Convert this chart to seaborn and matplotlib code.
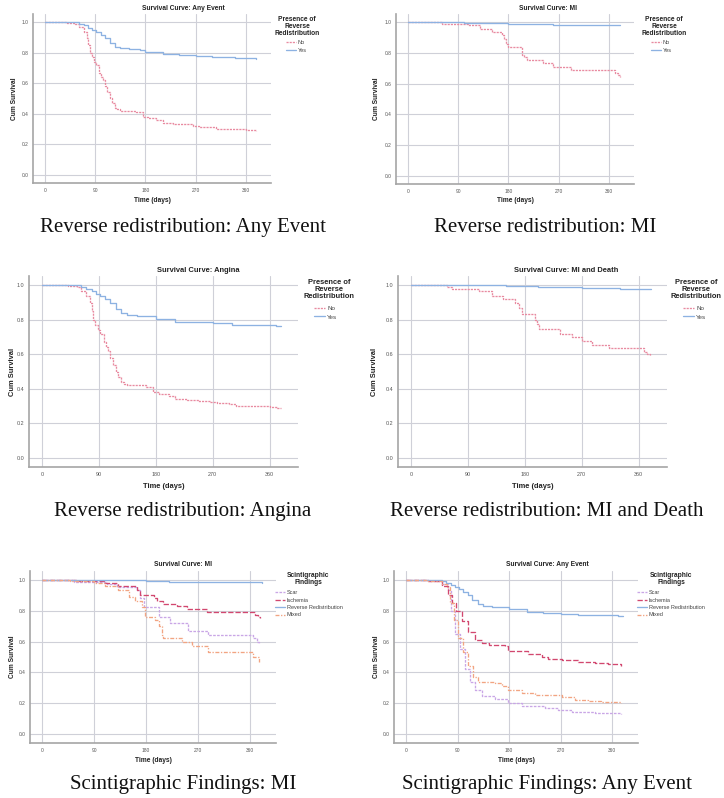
import numpy as np
import pandas as pd
import matplotlib
matplotlib.use("Agg")
import matplotlib.pyplot as plt
import seaborn as sns

# ---------------- data ----------------
x_ticks = [0, 90, 180, 270, 360]
y_ticks = [0.0, 0.2, 0.4, 0.6, 0.8, 1.0]

# Reverse redistribution: Any Event (also Angina)
ae_no_t = [0, 40, 55, 62, 70, 75, 78, 81, 84, 88, 92, 97, 101, 104, 108, 112, 116, 120, 125, 130, 134, 164, 176, 185, 200, 211, 230, 247, 265, 277, 295, 307, 340, 360, 372, 378]
ae_no_s = [1.0, 0.995, 0.99, 0.97, 0.94, 0.90, 0.85, 0.80, 0.77, 0.74, 0.72, 0.67, 0.64, 0.62, 0.58, 0.54, 0.50, 0.47, 0.44, 0.43, 0.42, 0.41, 0.38, 0.37, 0.36, 0.34, 0.335, 0.33, 0.32, 0.315, 0.31, 0.30, 0.298, 0.296, 0.29, 0.285]
ae_yes_t = [0, 62, 70, 78, 85, 92, 100, 108, 116, 125, 134, 150, 170, 180, 211, 240, 271, 300, 340, 370, 378]
ae_yes_s = [1.0, 0.99, 0.98, 0.965, 0.95, 0.94, 0.92, 0.90, 0.865, 0.84, 0.83, 0.825, 0.82, 0.807, 0.79, 0.785, 0.78, 0.772, 0.768, 0.765, 0.762]

an_no_t, an_no_s = ae_no_t, ae_no_s
an_yes_t, an_yes_s = ae_yes_t, ae_yes_s

# Reverse redistribution: MI
mi_no_t = [0, 61, 108, 129, 150, 168, 172, 176, 180, 204, 208, 213, 243, 260, 293, 371, 376, 380]
mi_no_s = [1.0, 0.99, 0.98, 0.96, 0.935, 0.92, 0.89, 0.86, 0.84, 0.79, 0.775, 0.755, 0.737, 0.71, 0.69, 0.668, 0.655, 0.646]
mi_yes_t = [0, 100, 140, 180, 220, 260, 300, 380]
mi_yes_s = [1.0, 0.997, 0.994, 0.99, 0.987, 0.984, 0.982, 0.98]

# Reverse redistribution: MI and Death
md_no_t = [0, 56, 64, 107, 128, 146, 165, 170, 175, 196, 199, 202, 236, 254, 270, 286, 313, 368, 373, 378]
md_no_s = [1.0, 0.99, 0.98, 0.965, 0.94, 0.92, 0.90, 0.87, 0.835, 0.80, 0.775, 0.745, 0.72, 0.70, 0.68, 0.655, 0.635, 0.615, 0.60, 0.595]
md_yes_t = [0, 150, 200, 270, 330, 380]
md_yes_s = [1.0, 0.995, 0.99, 0.985, 0.982, 0.98]

# Scintigraphic findings: MI
sm_scar_t = [0, 55, 112, 130, 164, 170, 176, 202, 222, 253, 288, 366, 372, 376]
sm_scar_s = [1.0, 0.985, 0.97, 0.95, 0.93, 0.88, 0.82, 0.76, 0.72, 0.67, 0.64, 0.62, 0.60, 0.585]
sm_isc_t = [0, 58, 107, 132, 164, 170, 193, 199, 210, 233, 251, 285, 369, 374, 378]
sm_isc_s = [1.0, 0.99, 0.975, 0.96, 0.93, 0.90, 0.88, 0.86, 0.84, 0.83, 0.81, 0.79, 0.77, 0.755, 0.75]
sm_rr_t, sm_rr_s = mi_yes_t, mi_yes_s
sm_mix_t = [0, 49, 89, 109, 132, 150, 161, 173, 179, 196, 202, 207, 210, 242, 259, 288, 366, 376]
sm_mix_s = [1.0, 0.99, 0.975, 0.96, 0.93, 0.89, 0.86, 0.82, 0.76, 0.74, 0.70, 0.64, 0.625, 0.60, 0.57, 0.53, 0.50, 0.47]

# Scintigraphic findings: Any Event
sa_scar_t = [0, 39, 62, 74, 78, 85, 94, 103, 112, 120, 132, 155, 178, 202, 242, 266, 289, 330, 376]
sa_scar_s = [1.0, 0.99, 0.97, 0.93, 0.80, 0.65, 0.55, 0.42, 0.34, 0.29, 0.25, 0.23, 0.205, 0.185, 0.17, 0.155, 0.145, 0.14, 0.13]
sa_isc_t = [0, 39, 62, 74, 80, 88, 97, 109, 120, 132, 144, 173, 178, 213, 237, 248, 272, 301, 330, 353, 376]
sa_isc_s = [1.0, 0.99, 0.96, 0.90, 0.85, 0.80, 0.73, 0.66, 0.61, 0.59, 0.58, 0.57, 0.54, 0.52, 0.50, 0.49, 0.48, 0.465, 0.46, 0.455, 0.44]
sa_rr_t, sa_rr_s = ae_yes_t, ae_yes_s
sa_mix_t = [0, 39, 62, 71, 77, 83, 91, 100, 109, 117, 126, 155, 167, 178, 202, 225, 272, 295, 318, 341, 376]
sa_mix_s = [1.0, 0.99, 0.97, 0.95, 0.85, 0.74, 0.62, 0.53, 0.44, 0.37, 0.34, 0.33, 0.31, 0.29, 0.265, 0.255, 0.24, 0.225, 0.215, 0.21, 0.20]

rr_groups = ["No", "Yes"]
sc_groups = ["Scar", "Ischemia", "Reverse Redistribution", "Mixed"]

titles = ["Survival Curve: Any Event", "Survival Curve: MI", "Survival Curve: Angina",
          "Survival Curve: MI and Death", "Survival Curve: MI", "Survival Curve: Any Event"]
captions = ["Reverse redistribution: Any Event", "Reverse redistribution: MI",
            "Reverse redistribution: Angina", "Reverse redistribution: MI and Death",
            "Scintigraphic Findings: MI", "Scintigraphic Findings: Any Event"]
rr_legend_title = "Presence of\nReverse\nRedistribution"
sc_legend_title = "Scintigraphic\nFindings"

# ---------------- styling ----------------
rr_palette = {"No": "#e88aa0", "Yes": "#8db2e2"}
rr_dashes = {"No": (1.6, 0.8), "Yes": ""}
sc_palette = {"Scar": "#c9a6e6", "Ischemia": "#d2476f",
              "Reverse Redistribution": "#8db2e2", "Mixed": "#f2a482"}
sc_dashes = {"Scar": (2, 1), "Ischemia": (4, 1.5), "Reverse Redistribution": "", "Mixed": (3, 1.2, 1, 1.2)}

sns.set_theme(style="white")
plt.rcParams["font.family"] = ["Liberation Sans", "DejaVu Sans"]

W, H = 724, 798
fig = plt.figure(figsize=(W / 100, H / 100), dpi=100)


def frame(series, groups):
    parts = []
    for (t, s), g in zip(series, groups):
        parts.append(pd.DataFrame({"time": t, "surv": s, "group": g}))
    return pd.concat(parts, ignore_index=True)


def px(x, y):
    return x / W, 1 - y / H


panels = [
    dict(box=(33, 14, 271, 183), series=[(ae_no_t, ae_no_s), (ae_yes_t, ae_yes_s)], kind="rr",
         fs=1.0, leg=(286, 40), legt=(297, 16), title=(183, 9), cap=(183, 232), ylab=15, xlab=200),
    dict(box=(396, 14, 634, 184), series=[(mi_no_t, mi_no_s), (mi_yes_t, mi_yes_s)], kind="rr",
         fs=1.0, leg=(651, 40), legt=(664, 16), title=(548, 9), cap=(545, 232), ylab=377, xlab=200),
    dict(box=(29, 276, 298, 467), series=[(an_no_t, an_no_s), (an_yes_t, an_yes_s)], kind="rr",
         fs=1.12, leg=(314, 306), legt=(329, 279), title=(198, 271), cap=(183, 516), ylab=13, xlab=486),
    dict(box=(398, 276, 667, 467), series=[(md_no_t, md_no_s), (md_yes_t, md_yes_s)], kind="rr",
         fs=1.12, leg=(683, 306), legt=(696, 279), title=(566, 271), cap=(547, 516), ylab=375, xlab=486),
    dict(box=(30, 571, 276, 743), series=[(sm_scar_t, sm_scar_s), (sm_isc_t, sm_isc_s), (sm_rr_t, sm_rr_s), (sm_mix_t, sm_mix_s)],
         kind="sc", fs=1.0, leg=(275, 590), legt=(308, 572), title=(183, 565), cap=(183, 789), ylab=13, xlab=761),
    dict(box=(394, 571, 638, 743), series=[(sa_scar_t, sa_scar_s), (sa_isc_t, sa_isc_s), (sa_rr_t, sa_rr_s), (sa_mix_t, sa_mix_s)],
         kind="sc", fs=1.0, leg=(637, 590), legt=(671, 572), title=(547, 565), cap=(547, 789), ylab=376, xlab=761),
]

for i, p in enumerate(panels):
    l, t, r, b = p["box"]
    ax = fig.add_axes([l / W, 1 - b / H, (r - l) / W, (b - t) / H])
    groups = rr_groups if p["kind"] == "rr" else sc_groups
    pal = rr_palette if p["kind"] == "rr" else sc_palette
    dsh = rr_dashes if p["kind"] == "rr" else sc_dashes
    df = frame(p["series"], groups)
    sns.lineplot(data=df, x="time", y="surv", hue="group", style="group",
                 hue_order=groups, style_order=groups, palette=pal, dashes=dsh,
                 estimator=None, drawstyle="steps-post", linewidth=0.95, ax=ax)
    fs = p["fs"]
    ax.set_xlim(-21, 405)
    ax.set_ylim(-0.055, 1.055)
    ax.set_xticks(x_ticks)
    ax.set_xticklabels([str(v) for v in x_ticks])
    ax.set_yticks(y_ticks)
    ax.set_yticklabels([f"{v:.1f}" for v in y_ticks])
    ax.tick_params(length=0, pad=3.5, labelsize=3.5 * fs, labelcolor="#555555")
    ax.grid(True, color="#cfd0d8", linewidth=0.8)
    ax.set_axisbelow(True)
    for s in ("top", "right"):
        ax.spines[s].set_visible(False)
    for s in ("left", "bottom"):
        ax.spines[s].set_color("#a5a5a5")
        ax.spines[s].set_linewidth(1.2)
    ax.set_xlabel("")
    ax.set_ylabel("")

    handles, labels = ax.get_legend_handles_labels()
    lx, ly = p["leg"]
    ax.legend(handles, labels, loc="upper left", bbox_to_anchor=px(lx, ly),
              bbox_transform=fig.transFigure, frameon=False, fontsize=4.0 * fs,
              handlelength=1.8, handletextpad=0.3, labelspacing=0.45,
              borderpad=0, borderaxespad=0)
    for txt in ax.get_legend().get_texts():
        txt.set_color("#444444")

    tx, ty = p["legt"]
    fig.text(*px(tx, ty), rr_legend_title if p["kind"] == "rr" else sc_legend_title,
             ha="center", va="top", fontsize=4.8 * fs, fontweight="bold",
             linespacing=1.0, color="#222222")
    fig.text(*px(*p["title"]), titles[i], ha="center", va="center",
             fontsize=4.8 * fs, fontweight="bold", color="#222222")
    fig.text(*px(p["ylab"], (t + b) / 2), "Cum Survival", rotation=90,
             ha="center", va="center", fontsize=4.8 * fs, fontweight="bold", color="#222222")
    fig.text(*px((l + r) / 2, p["xlab"]), "Time (days)", ha="center", va="center",
             fontsize=4.8 * fs, fontweight="bold", color="#222222")
    fig.text(*px(*p["cap"]), captions[i], ha="center", va="baseline",
             fontsize=15, family=["Liberation Serif", "DejaVu Serif"], color="#111111")

fig.savefig("out.png", dpi=100, facecolor="white")
